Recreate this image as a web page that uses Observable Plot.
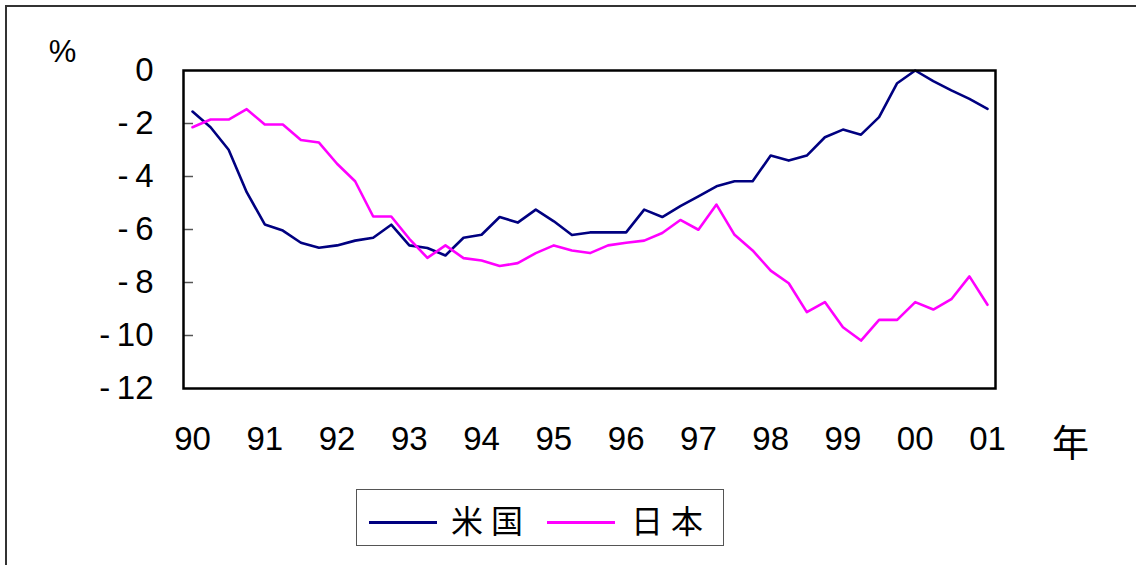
<!DOCTYPE html>
<html>
<head>
<meta charset="utf-8">
<script src="https://cdn.jsdelivr.net/npm/d3@7"></script>
<script src="https://cdn.jsdelivr.net/npm/@observablehq/plot@0.6"></script>
<style>
  html, body { margin: 0; padding: 0; background: #fff; }
  #wrap { position: relative; width: 1136px; height: 565px; overflow: hidden; background: #fff; }
  #border { position: absolute; left: 5px; top: 5px; width: 1300px; height: 800px;
            border-top: 2px solid #333; border-left: 2px solid #333; }
  #chart { position: absolute; left: 0; top: 0; }
  #legend { position: absolute; left: 356px; top: 489px; width: 368px; height: 57px;
            border: 1px solid #555; box-sizing: border-box; background: #fff; }
  .sw { position: absolute; top: 31px; height: 0; width: 68px; border-top: 3px solid; }
  .lt { position: absolute; top: 10px; font-family: "Noto Sans CJK JP", sans-serif;
        font-size: 32px; line-height: 38px; letter-spacing: 8px; color: #000; }
</style>
</head>
<body>
<div id="wrap">
  <div id="border"></div>
  <div id="chart"></div>
  <div id="legend">
    <div class="sw" style="left:12px;border-color:#000080"></div>
    <div class="lt" style="left:94px">米国</div>
    <div class="sw" style="left:190px;border-color:#ff00ff"></div>
    <div class="lt" style="left:274px">日本</div>
  </div>
</div>
<script>
// Series (quarterly, 1990Q1 .. 2001Q1), percent
const usa = [-1.55,-2.14,-2.99,-4.59,-5.81,-6.04,-6.50,-6.69,-6.60,-6.42,
             -6.31,-5.82,-6.60,-6.70,-6.98,-6.31,-6.20,-5.53,-5.74,-5.25,
             -5.69,-6.21,-6.11,-6.11,-6.11,-5.25,-5.53,-5.12,-4.75,-4.37,
             -4.18,-4.18,-3.21,-3.40,-3.21,-2.52,-2.23,-2.42,-1.76,-0.48,
              0.00,-0.40,-0.75,-1.07,-1.45];
const japan = [-2.14,-1.85,-1.85,-1.46,-2.04,-2.04,-2.62,-2.72,-3.52,-4.18,
               -5.51,-5.51,-6.35,-7.07,-6.60,-7.08,-7.17,-7.38,-7.27,-6.89,
               -6.60,-6.79,-6.89,-6.60,-6.50,-6.42,-6.13,-5.64,-6.01,-5.06,
               -6.20,-6.79,-7.55,-8.03,-9.12,-8.74,-9.69,-10.19,-9.41,-9.41,
               -8.74,-9.02,-8.63,-7.77,-8.84];
const startYear = 1990;
const yearTicks = [1990,1991,1992,1993,1994,1995,1996,1997,1998,1999,2000,2001];
const yearLabels = ["90","91","92","93","94","95","96","97","98","99","00","01"];
const yTicks = [0,-2,-4,-6,-8,-10,-12];
const yTickLabels = ["0","-\u20092","-\u20094","-\u20096","-\u20098","-\u200910","-\u200912"];

const rows = [];
usa.forEach((v, i) => rows.push({t: startYear + i / 4, v, s: "米国"}));
japan.forEach((v, i) => rows.push({t: startYear + i / 4, v, s: "日本"}));

const font = "'Liberation Sans', Arial, sans-serif";
const chart = Plot.plot({
  width: 1136,
  height: 470,
  marginLeft: 183,
  marginRight: 141,
  marginTop: 70,
  marginBottom: 82,
  style: {fontFamily: font, fontSize: "33px", color: "#000", background: "transparent", overflow: "visible"},
  x: {domain: [1990, 2001], range: [192, 987]},
  y: {domain: [-12, 0]},
  color: {domain: ["米国", "日本"], range: ["#000080", "#ff00ff"]},
  marks: [
    Plot.axisX({ticks: yearTicks, tickSize: 0, tickPadding: 38, label: null,
                tickFormat: d => yearLabels[yearTicks.indexOf(d)], fontSize: 33}),
    Plot.axisY({ticks: yTicks, tickSize: 0, tickPadding: 30, label: null,
                tickFormat: d => yTickLabels[yTicks.indexOf(d)], fontSize: 33}),
    Plot.ruleY(yTicks.slice(1, -1), {x1: 1990 - 9 / 72.3, x2: 1990 + 1 / 72.3, stroke: "#555", strokeWidth: 1.5}),
    Plot.line(rows, {x: "t", y: "v", stroke: "s", strokeWidth: 2.6, clip: false}),
    Plot.frame({stroke: "#000", strokeWidth: 2.5}),
    Plot.text(["%"], {frameAnchor: "top-left", dx: -121, dy: -18, textAnchor: "middle", lineAnchor: "middle",
                      fontSize: 31, fontFamily: "'Liberation Sans Narrow', 'Liberation Sans', sans-serif"}),
    Plot.text(["年"], {frameAnchor: "bottom-right", dx: 75, dy: 57, textAnchor: "middle", lineAnchor: "middle",
                      fontSize: 37, fontFamily: "'Noto Sans CJK JP', sans-serif"})
  ]
});
document.getElementById("chart").appendChild(chart);
</script>
</body>
</html>
